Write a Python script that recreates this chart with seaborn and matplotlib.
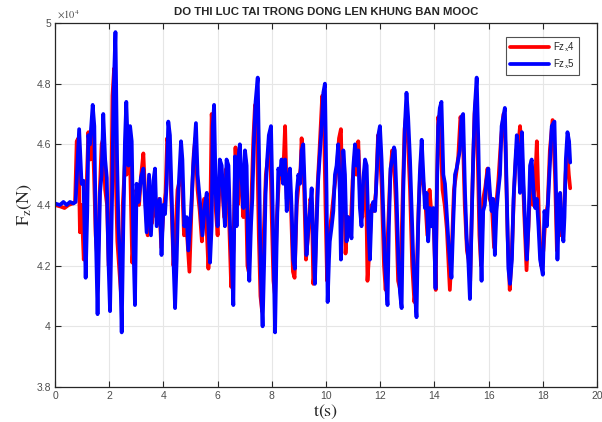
import matplotlib
matplotlib.use("Agg")
import matplotlib.pyplot as plt
import seaborn as sns
import pandas as pd
from matplotlib.ticker import FuncFormatter

# data (values in x10^4 N)
blue_t = [0.00, 0.18, 0.31, 0.43, 0.55, 0.68, 0.76, 0.89, 0.98, 1.05, 1.13, 1.19, 1.23, 1.29, 1.39,
          1.45, 1.50, 1.57, 1.66, 1.72, 1.78, 1.85, 1.91, 1.97, 2.03, 2.12, 2.16, 2.23, 2.29, 2.34,
          2.40, 2.46, 2.52, 2.58, 2.63, 2.71, 2.77, 2.83, 2.89, 2.95, 3.01, 3.08, 3.17, 3.26, 3.38,
          3.47, 3.54, 3.63, 3.69, 3.75, 3.87, 3.93, 4.00, 4.06, 4.12, 4.18, 4.24, 4.30, 4.37, 4.43,
          4.49, 4.55, 4.65, 4.70, 4.77, 4.86, 4.92, 5.02, 5.10, 5.20, 5.26, 5.35, 5.44, 5.53, 5.60,
          5.66, 5.72, 5.78, 5.82, 5.87, 5.93, 6.00, 6.08, 6.15, 6.21, 6.27, 6.33, 6.40, 6.46, 6.52,
          6.58, 6.64, 6.70, 6.76, 6.82, 6.89, 6.95, 7.01, 7.07, 7.13, 7.17, 7.23, 7.28, 7.34, 7.40,
          7.48, 7.53, 7.57, 7.62, 7.66, 7.72, 7.77, 7.83, 7.89, 7.97, 8.02, 8.07, 8.12, 8.18, 8.24,
          8.30, 8.36, 8.42, 8.49, 8.55, 8.61, 8.67, 8.73, 8.79, 8.85, 8.92, 8.98, 9.04, 9.10, 9.16,
          9.22, 9.28, 9.35, 9.41, 9.47, 9.53, 9.59, 9.65, 9.71, 9.78, 9.84, 9.90, 9.96, 10.02, 10.06,
          10.11, 10.14, 10.21, 10.27, 10.33, 10.39, 10.45, 10.51, 10.55, 10.61, 10.64, 10.70, 10.76,
          10.82, 10.88, 10.94, 11.01, 11.07, 11.13, 11.19, 11.25, 11.31, 11.37, 11.44, 11.50, 11.56,
          11.62, 11.68, 11.74, 11.81, 11.87, 11.93, 11.99, 12.05, 12.11, 12.17, 12.24, 12.27, 12.32,
          12.38, 12.44, 12.51, 12.54, 12.60, 12.67, 12.73, 12.79, 12.85, 12.91, 12.97, 13.03, 13.10,
          13.16, 13.22, 13.28, 13.34, 13.40, 13.46, 13.53, 13.59, 13.65, 13.71, 13.77, 13.83, 13.90,
          13.96, 13.99, 14.04, 14.09, 14.14, 14.20, 14.26, 14.33, 14.39, 14.45, 14.51, 14.57, 14.63,
          14.69, 14.76, 14.82, 14.88, 14.94, 15.00, 15.06, 15.13, 15.19, 15.25, 15.31, 15.37, 15.43,
          15.49, 15.56, 15.62, 15.68, 15.74, 15.80, 15.86, 15.92, 15.99, 16.05, 16.11, 16.17, 16.23,
          16.29, 16.35, 16.42, 16.48, 16.60, 16.67, 16.73, 16.79, 16.86, 16.92, 16.98, 17.04, 17.10,
          17.16, 17.23, 17.29, 17.35, 17.41, 17.47, 17.53, 17.59, 17.66, 17.72, 17.78, 17.84, 17.90,
          18.00, 18.06, 18.15, 18.21, 18.27, 18.33, 18.43, 18.49, 18.54, 18.60, 18.64, 18.70, 18.76,
          18.80, 18.85, 18.91, 18.97, 19.01]
blue_v = [4.405, 4.40, 4.41, 4.40, 4.41, 4.405, 4.41, 4.65, 4.47, 4.48, 4.16, 4.38, 4.63, 4.60, 4.73,
          4.66, 4.33, 4.04, 4.44, 4.50, 4.70, 4.55, 4.49, 4.22, 4.05, 4.50, 4.77, 4.97, 4.55, 4.33,
          4.22, 3.98, 4.33, 4.61, 4.74, 4.53, 4.66, 4.61, 4.28, 4.07, 4.47, 4.41, 4.49, 4.52, 4.31,
          4.50, 4.30, 4.48, 4.52, 4.33, 4.42, 4.235, 4.40, 4.37, 4.47, 4.675, 4.63, 4.44, 4.22, 4.06,
          4.22, 4.44, 4.61, 4.55, 4.33, 4.36, 4.25, 4.38, 4.53, 4.67, 4.50, 4.41, 4.30, 4.40, 4.44,
          4.33, 4.21, 4.33, 4.66, 4.73, 4.44, 4.33, 4.55, 4.53, 4.42, 4.33, 4.55, 4.53, 4.33, 4.22,
          4.07, 4.56, 4.33, 4.55, 4.60, 4.48, 4.39, 4.58, 4.53, 4.22, 4.15, 4.33, 4.42, 4.61, 4.74,
          4.82, 4.55, 4.28, 4.09, 4.00, 4.22, 4.44, 4.55, 4.63, 4.66, 4.44, 4.22, 3.98, 4.28, 4.52,
          4.50, 4.55, 4.47, 4.55, 4.38, 4.48, 4.52, 4.39, 4.22, 4.19, 4.44, 4.50, 4.47, 4.58, 4.60,
          4.44, 4.235, 4.33, 4.38, 4.455, 4.28, 4.14, 4.33, 4.48, 4.58, 4.66, 4.77, 4.80, 4.44, 4.08,
          4.22, 4.28, 4.33, 4.38, 4.50, 4.53, 4.60, 4.44, 4.22, 4.44, 4.58, 4.50, 4.28,
          4.36, 4.33, 4.29, 4.53, 4.60, 4.53, 4.58, 4.39, 4.33, 4.48, 4.55, 4.53, 4.33,
          4.22, 4.38, 4.41, 4.38, 4.50, 4.63, 4.66, 4.55, 4.39, 4.22, 4.11, 4.07, 4.33,
          4.52, 4.55, 4.59, 4.58, 4.44, 4.22, 4.11, 4.06, 4.44, 4.66, 4.77, 4.69, 4.55,
          4.39, 4.22, 4.11, 4.03, 4.33, 4.50, 4.615, 4.50, 4.39, 4.44, 4.28, 4.39, 4.33,
          4.39, 4.31, 4.125, 4.44, 4.66, 4.72, 4.74, 4.50, 4.47, 4.38, 4.29, 4.22, 4.16,
          4.33, 4.50, 4.52, 4.55, 4.58, 4.69, 4.70, 4.44, 4.29, 4.22, 4.09, 4.33, 4.55,
          4.72, 4.82, 4.61, 4.33, 4.15, 4.38, 4.40, 4.48, 4.52, 4.44, 4.38, 4.42, 4.235,
          4.38, 4.44, 4.50, 4.66, 4.72, 4.44, 4.19, 4.14, 4.22, 4.42, 4.53, 4.63, 4.58,
          4.44, 4.64, 4.47, 4.33, 4.22, 4.33, 4.53, 4.55, 4.44, 4.39, 4.42, 4.33, 4.22,
          4.17, 4.38, 4.33, 4.44, 4.55, 4.66, 4.675, 4.44, 4.22, 4.39, 4.44, 4.33, 4.28,
          4.36, 4.55, 4.64, 4.61, 4.54]

red_t = [0.00, 0.20, 0.35, 0.50, 0.65, 0.74, 0.80, 0.86, 0.92, 0.98, 1.06, 1.12, 1.18, 1.23, 1.30,
         1.37, 1.44, 1.50, 1.58, 1.64, 1.72, 1.78, 1.85, 1.92, 1.98, 2.05, 2.12, 2.18, 2.24, 2.30,
         2.38, 2.44, 2.50, 2.58, 2.64, 2.72, 2.78, 2.85, 2.92, 3.00, 3.10, 3.18, 3.26, 3.34, 3.42,
         3.50, 3.58, 3.66, 3.74, 3.84, 3.92, 4.00, 4.08, 4.14, 4.22, 4.30, 4.37, 4.44, 4.52, 4.60,
         4.68, 4.76, 4.86, 4.96, 5.04, 5.12, 5.18, 5.26, 5.34, 5.42, 5.50, 5.58, 5.66, 5.72, 5.78,
         5.84, 5.92, 6.00, 6.08, 6.16, 6.24, 6.32, 6.40, 6.50, 6.58, 6.66, 6.74, 6.80, 6.88, 6.95,
         7.02, 7.10, 7.15, 7.24, 7.32, 7.38, 7.46, 7.52, 7.58, 7.64, 7.70, 7.78, 7.86, 7.94, 8.00,
         8.06, 8.12, 8.18, 8.26, 8.34, 8.42, 8.49, 8.55, 8.62, 8.70, 8.78, 8.84, 8.92, 9.00, 9.06,
         9.10, 9.18, 9.26, 9.34, 9.42, 9.48, 9.53, 9.60, 9.68, 9.76, 9.86, 9.92, 9.98, 10.04, 10.10,
         10.20, 10.30, 10.40, 10.48, 10.55, 10.60, 10.66, 10.72, 10.80, 10.90, 10.98, 11.06, 11.12,
         11.19, 11.26, 11.34, 11.42, 11.48, 11.53, 11.60, 11.68, 11.76, 11.84, 11.92, 11.98, 12.06,
         12.14, 12.20, 12.28, 12.36, 12.44, 12.50, 12.58, 12.66, 12.74, 12.82, 12.90, 12.96, 13.02,
         13.10, 13.18, 13.26, 13.34, 13.42, 13.50, 13.58, 13.66, 13.74, 13.82, 13.90, 13.98, 14.05,
         14.10, 14.14, 14.22, 14.30, 14.38, 14.46, 14.57, 14.64, 14.72, 14.80, 14.88, 14.96, 15.04,
         15.12, 15.20, 15.26, 15.32, 15.40, 15.48, 15.54, 15.60, 15.66, 15.72, 15.80, 15.88, 15.96,
         16.04, 16.12, 16.20, 16.28, 16.36, 16.46, 16.55, 16.62, 16.70, 16.78, 16.86, 16.94, 17.02,
         17.10, 17.16, 17.24, 17.32, 17.40, 17.48, 17.56, 17.64, 17.72, 17.78, 17.86, 17.94, 18.02,
         18.10, 18.18, 18.26, 18.36, 18.45, 18.52, 18.60, 18.68, 18.76, 18.84, 18.90, 18.96, 19.01]
red_v = [4.40, 4.395, 4.39, 4.40, 4.405, 4.41, 4.61, 4.62, 4.31, 4.40, 4.22, 4.30, 4.50, 4.64, 4.55,
         4.68, 4.50, 4.30, 4.20, 4.42, 4.60, 4.62, 4.45, 4.40, 4.20, 4.25, 4.76, 4.85, 4.50, 4.28,
         4.18, 4.10, 4.40, 4.54, 4.50, 4.56, 4.50, 4.21, 4.30, 4.45, 4.40, 4.50, 4.57, 4.40, 4.30,
         4.46, 4.34, 4.44, 4.36, 4.42, 4.26, 4.38, 4.44, 4.62, 4.58, 4.40, 4.20, 4.30, 4.45, 4.48,
         4.50, 4.30, 4.32, 4.18, 4.40, 4.57, 4.62, 4.45, 4.38, 4.28, 4.42, 4.36, 4.19, 4.30, 4.70,
         4.62, 4.40, 4.30, 4.50, 4.48, 4.36, 4.52, 4.42, 4.13, 4.25, 4.59, 4.40, 4.58, 4.45, 4.36,
         4.55, 4.20, 4.18, 4.40, 4.62, 4.73, 4.60, 4.30, 4.10, 4.05, 4.30, 4.50, 4.56, 4.60, 4.35,
         4.15, 4.10, 4.35, 4.48, 4.52, 4.50, 4.66, 4.42, 4.45, 4.42, 4.18, 4.16, 4.40, 4.48, 4.52,
         4.62, 4.50, 4.22, 4.30, 4.42, 4.40, 4.14, 4.20, 4.45, 4.58, 4.76, 4.70, 4.40, 4.15, 4.30,
         4.36, 4.45, 4.52, 4.62, 4.65, 4.42, 4.52, 4.24, 4.36, 4.30, 4.48, 4.56, 4.50,
         4.61, 4.42, 4.36, 4.50, 4.46, 4.15, 4.25, 4.40, 4.38, 4.44, 4.63, 4.60, 4.45,
         4.20, 4.12, 4.30, 4.48, 4.58, 4.56, 4.40, 4.15, 4.12, 4.40, 4.65, 4.70, 4.62,
         4.45, 4.20, 4.08, 4.15, 4.40, 4.55, 4.48, 4.42, 4.30, 4.45, 4.36, 4.32, 4.12,
         4.50, 4.69, 4.65, 4.45, 4.40, 4.32, 4.12, 4.25, 4.45, 4.50, 4.56, 4.69, 4.66,
         4.40, 4.25, 4.22, 4.15, 4.45, 4.70, 4.76, 4.55, 4.30, 4.20, 4.42, 4.46, 4.52,
         4.42, 4.40, 4.26, 4.40, 4.48, 4.62, 4.70, 4.60, 4.30, 4.12, 4.25, 4.45, 4.58,
         4.60, 4.66, 4.55, 4.36, 4.185, 4.35, 4.50, 4.40, 4.48, 4.61, 4.35, 4.20, 4.25,
         4.36, 4.40, 4.58, 4.68, 4.50, 4.25, 4.40, 4.30, 4.34, 4.50, 4.58, 4.50, 4.455]

x_ticks = [0, 2, 4, 6, 8, 10, 12, 14, 16, 18, 20]
y_ticks = [3.8, 4.0, 4.2, 4.4, 4.6, 4.8, 5.0]

sns.set_style("whitegrid", {"grid.color": "#e6e6e6", "axes.edgecolor": "#262626"})
plt.rcParams["font.family"] = ["Liberation Sans", "DejaVu Sans"]
plt.rcParams["mathtext.fontset"] = "stix"

fig = plt.figure(figsize=(6.02, 4.22), dpi=100)
ax = fig.add_axes([0.0914, 0.083, 0.9003, 0.8625])

df_red = pd.DataFrame({"t": red_t, "Fz": red_v})
df_blue = pd.DataFrame({"t": blue_t, "Fz": blue_v})
sns.lineplot(data=df_red, x="t", y="Fz", color="#ff0000", lw=2.7, ax=ax, label=r"Fz$_{\mathrm{x}}$4",
             sort=False, estimator=None)
sns.lineplot(data=df_blue, x="t", y="Fz", color="#0000ff", lw=2.7, ax=ax, label=r"Fz$_{\mathrm{x}}$5",
             sort=False, estimator=None)

ax.set_xlim(0, 20)
ax.set_ylim(3.8, 5.0)
ax.set_xticks(x_ticks)
ax.set_yticks(y_ticks)
ax.yaxis.set_major_formatter(FuncFormatter(lambda v, p: f"{v:g}"))
ax.tick_params(direction="in", length=4, width=0.8, color="#262626", labelsize=7.5,
               labelcolor="#4d4d4d", top=True, right=True, bottom=True, left=True, pad=3)
for s in ax.spines.values():
    s.set_linewidth(0.9)
ax.grid(True, lw=0.8)

ax.set_title("DO THI LUC TAI TRONG DONG LEN KHUNG BAN MOOC", fontsize=8.2,
             fontweight="bold", pad=6)
ax.set_xlabel(r"$\mathrm{t(s)}$", fontsize=13, labelpad=1)
ax.set_ylabel(r"$\mathrm{F_z(N)}$", fontsize=13, labelpad=2)
ax.text(0.004, 1.006, r"$\times10^{4}$", transform=ax.transAxes, fontsize=7.5,
        color="#4d4d4d", va="bottom", ha="left")

leg = ax.legend(loc="upper right", bbox_to_anchor=(0.975, 0.975), fontsize=7,
                frameon=True, fancybox=False, handlelength=4.0, borderpad=0.4,
                labelspacing=0.3, handletextpad=0.4)
leg.get_frame().set_edgecolor("#262626")
leg.get_frame().set_linewidth(0.8)

fig.savefig("out.png", dpi=100)
